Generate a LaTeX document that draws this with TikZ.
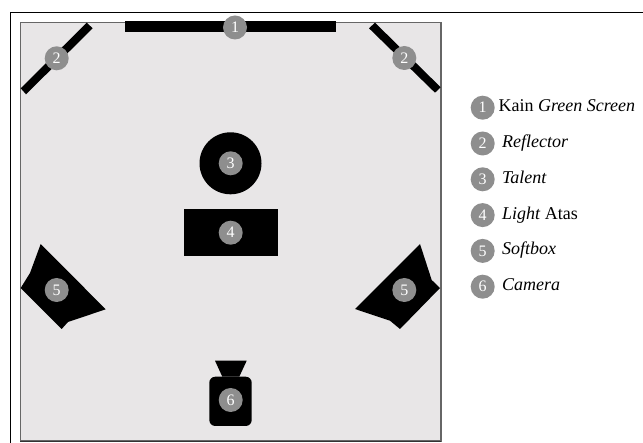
\documentclass[tikz,border=0pt]{standalone}
\usepackage{fontspec}
\setmainfont{Liberation Serif}
\usetikzlibrary{positioning}
\definecolor{floorgray}{HTML}{E8E6E7}
\definecolor{badgegray}{HTML}{8E8E8E}

\begin{document}
\begin{tikzpicture}[
  x=1pt, y=-1pt,
  badge/.style={circle, fill=badgegray, text=white, minimum size=24pt, inner sep=0pt, font=\fontsize{16}{16}\selectfont},
  entry/.style={right=7pt of #1, inner sep=0pt, text height=12pt, text depth=4pt, font=\fontsize{18}{20}\selectfont},
  solid part/.style={fill=black, draw=none}
]
\useasboundingbox (0,0) rectangle (643,443);

% Frame and studio floor
\fill[white] (0,0) rectangle (643,443);
\draw[line width=1.5pt] (10.5,443) -- (10.5,12.5) -- (643,12.5);
\draw[fill=floorgray, draw=black!60, line width=1.2pt] (20.5,22.5) rectangle (441,441);
\draw[black!80, line width=1.5pt] (20,441.5) -- (441,441.5);

% Equipment
\fill[solid part] (125,21.5) rectangle (336,32.5);
\fill[solid part] (86.7,22.7) -- (92.7,28.3) -- (26,94.3) -- (20.7,88.3) -- cycle;
\fill[solid part] (375,22.7) -- (369,28.3) -- (435,92.7) -- (440.7,87.3) -- cycle;
\fill[solid part] (230.5,163.3) circle (31);
\fill[solid part] (184,208.7) rectangle (277.7,256);
\fill[solid part] (40.7,244) -- (105.7,309.3) -- (68,322) -- (61.7,329) -- (20.7,288) -- (30,273) -- cycle;
\fill[solid part] (420,244) -- (355,309) -- (390,320.7) -- (400,329) -- (440,288) -- (431.7,280) -- cycle;
\fill[solid part] (215,360.7) -- (246.7,360.7) -- (239.3,376.7) -- (222.3,376.7) -- cycle;
\fill[solid part, rounded corners=6pt] (209.3,376.7) rectangle (251.7,426);

% Numbered markers on the plan
\node[badge] (screen) at (235,27.5) {1};
\node[badge] (reflectorL) at (56.7,58.3) {2};
\node[badge] (reflectorR) at (404.3,58) {2};
\node[badge] (talent) at (230.7,163.3) {3};
\node[badge] (light) at (230.7,232.7) {4};
\node[badge] (softboxL) at (56.7,290) {5};
\node[badge] (softboxR) at (404.3,290) {5};
\node[badge] (camera) at (230.7,400) {6};

% Legend
\node[badge] (key1) at (482.7,107.7) {1};
\node[badge, below=11.4pt of key1] (key2) {2};
\node[badge, below=11.4pt of key2] (key3) {3};
\node[badge, below=11.4pt of key3] (key4) {4};
\node[badge, below=11.4pt of key4] (key5) {5};
\node[badge, below=11.4pt of key5] (key6) {6};
\node[entry=key1, xshift=-3.5pt] (text1) {Kain \textit{Green Screen}};
\node[entry=key2] (text2) {\textit{Reflector}};
\node[entry=key3] (text3) {\textit{Talent}};
\node[entry=key4] (text4) {\textit{Light} Atas};
\node[entry=key5] (text5) {\textit{Softbox}};
\node[entry=key6] (text6) {\textit{Camera}};
\end{tikzpicture}
\end{document}
